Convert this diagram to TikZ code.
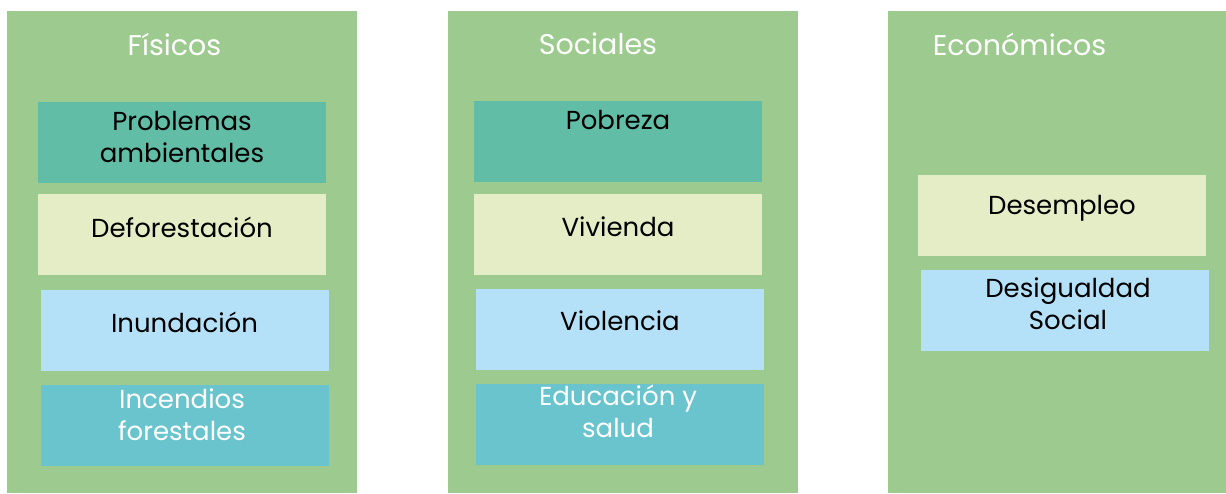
\documentclass[tikz,border=0pt]{standalone}
\usepackage{fontspec}
\setmainfont{Poppins}
\usepackage{tikz}
\usetikzlibrary{positioning}

\definecolor{colgreen}{HTML}{9DCA8E}
\definecolor{teal1}{HTML}{61BDA6}
\definecolor{pale1}{HTML}{E4EDC5}
\definecolor{sky1}{HTML}{B4E0F8}
\definecolor{cyan1}{HTML}{6AC4CD}

\begin{document}
\begin{tikzpicture}[x=1pt, y=-1pt,
	col/.style={fill=colgreen, minimum height=482pt, inner sep=0pt},
	box/.style={minimum width=288pt, minimum height=81pt, inner sep=0pt},
	ttl/.style={font=\fontsize{28.5}{32}\selectfont, text=white},
	lbl/.style={font=\fontsize{26}{32}\selectfont, align=center, inner sep=0pt}]
	\useasboundingbox (0,0) rectangle (1226,494);
	% columns
	\node[col, minimum width=350pt] (fis) at (182,252) {};
	\node[col, minimum width=350pt] (soc) at (623,252) {};
	\node[col, minimum width=338pt] (eco) at (1057,252) {};
	\node[ttl] (tfis) at (174.5,44) {Físicos};
	\node[ttl] (tsoc) at (598,44) {Sociales};
	\node[ttl] (teco) at (1019.5,44) {Económicos};
	% Fisicos
	\node[box, fill=teal1] (prob) at (182,142.5) {};
	\node[box, fill=pale1] (defo) at (182,235) {};
	\node[box, fill=sky1] (inun) at (184.5,330.5) {};
	\node[box, fill=cyan1] (ince) at (184.5,425.5) {};
	\node[lbl] at ([yshift=6]prob.center) {Problemas\\ambientales};
	\node[lbl] at ([yshift=8]defo.center) {Deforestación};
	\node[lbl] at ([yshift=8.5]inun.center) {Inundación};
	\node[lbl, text=white] at ([xshift=-2.5,yshift=11]ince.center) {Incendios\\forestales};
	% Sociales
	\node[box, fill=teal1] (pobr) at (618,141.5) {};
	\node[box, fill=pale1] (vivi) at (618,234.5) {};
	\node[box, fill=sky1] (viol) at (620,329.5) {};
	\node[box, fill=cyan1] (educ) at (620,424.5) {};
	\node[lbl] at ([yshift=22]pobr.center) {Pobreza};
	\node[lbl] at ([yshift=8]vivi.center) {Vivienda};
	\node[lbl] at ([yshift=9]viol.center) {Violencia};
	\node[lbl, text=white] at ([xshift=-2,yshift=13]educ.center) {Educación y\\salud};
	% Economicos
	\node[box, fill=pale1] (dese) at (1062,215.5) {};
	\node[box, fill=sky1] (desi) at (1065,310.5) {};
	\node[lbl] at ([yshift=7.5]dese.center) {Desempleo};
	\node[lbl] at ([xshift=3,yshift=6.5]desi.center) {Desigualdad\\Social};
\end{tikzpicture}
\end{document}
